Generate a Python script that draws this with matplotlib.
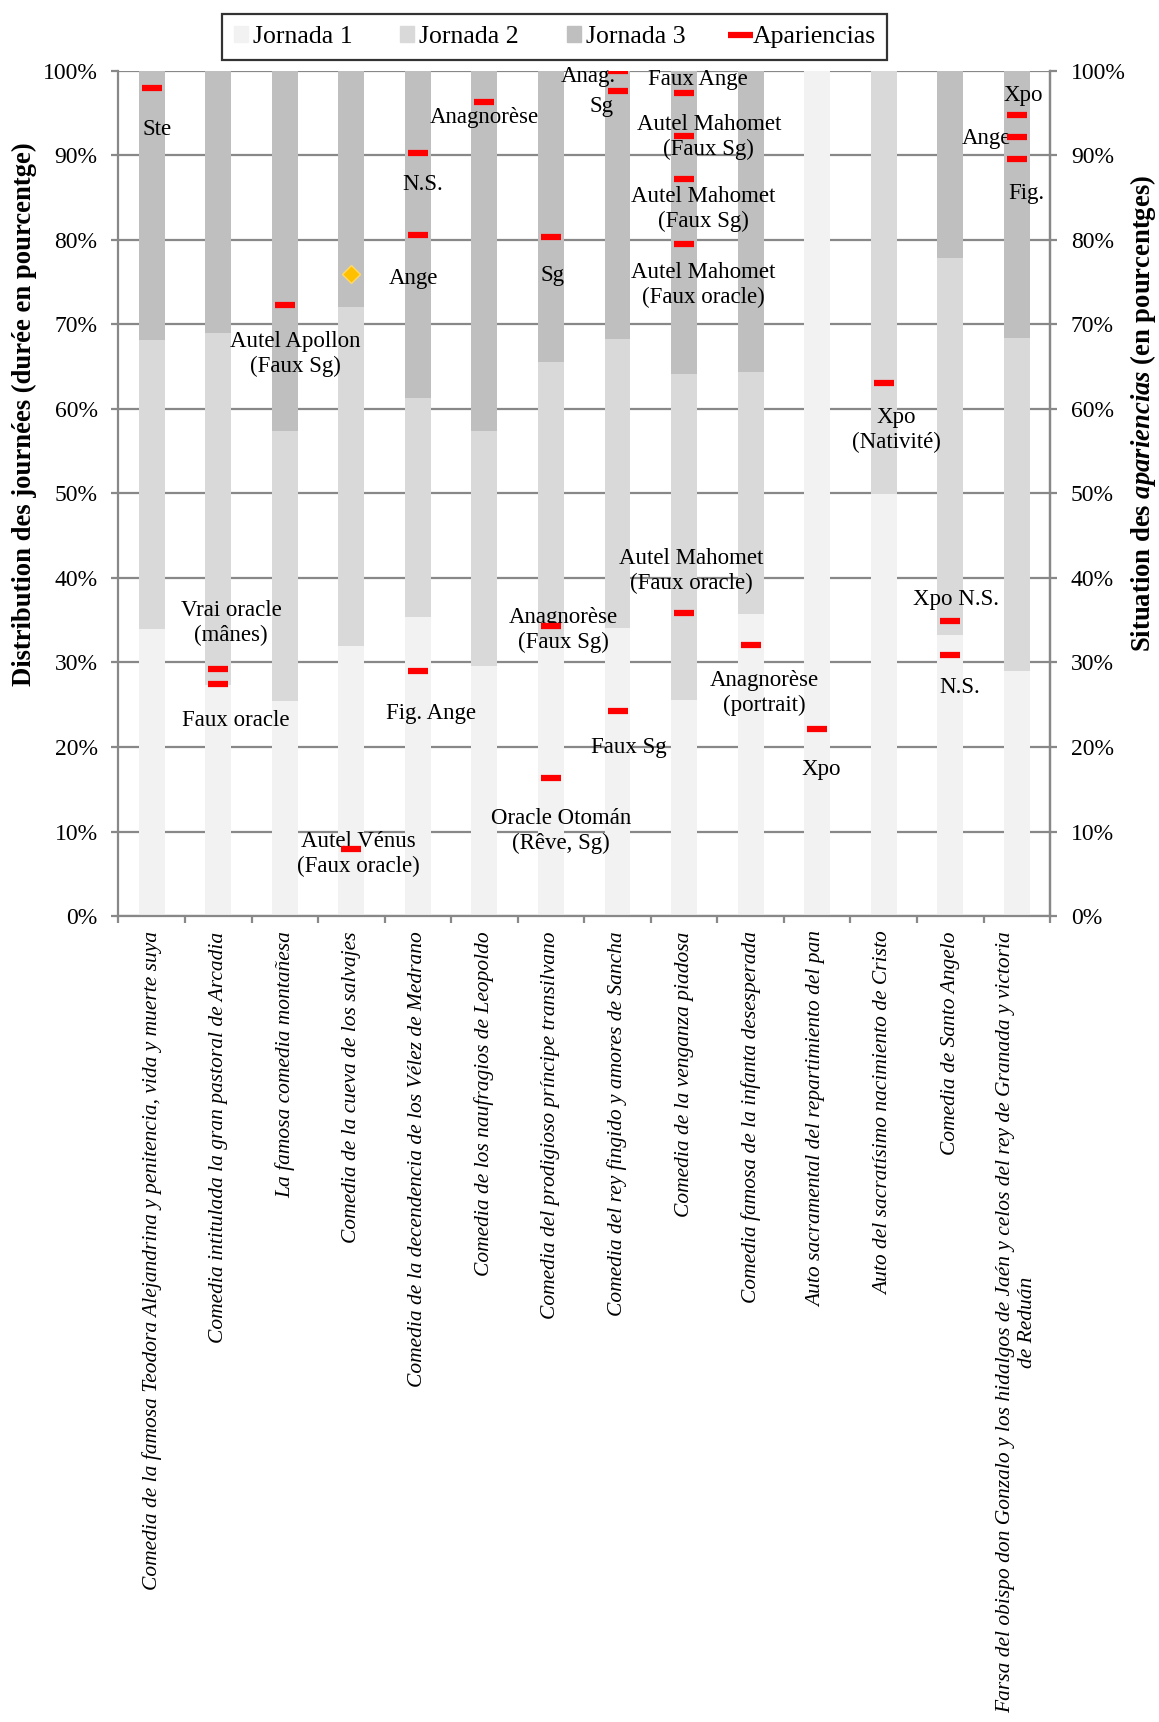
import matplotlib
matplotlib.use("Agg")
import matplotlib.pyplot as plt
from matplotlib.lines import Line2D
from matplotlib.patches import Patch
from matplotlib.ticker import PercentFormatter, FixedLocator

plt.rcParams['font.family'] = ['Liberation Serif', 'DejaVu Serif']
plt.rcParams['mathtext.fontset'] = 'custom'
plt.rcParams['mathtext.rm'] = 'Liberation Serif'
plt.rcParams['mathtext.it'] = 'Liberation Serif:italic'
plt.rcParams['mathtext.bf'] = 'Liberation Serif:bold'
plt.rcParams['mathtext.bfit'] = 'Liberation Serif:italic:bold'

# DATA
obras = [
    "Comedia de la famosa Teodora Alejandrina y penitencia, vida y muerte suya",
    "Comedia intitulada la gran pastoral de Arcadia",
    "La famosa comedia montañesa",
    "Comedia de la cueva de los salvajes",
    "Comedia de la decendencia de los Vélez de Medrano",
    "Comedia de los naufragios de Leopoldo",
    "Comedia del prodigioso príncipe transilvano",
    "Comedia del rey fingido y amores de Sancha",
    "Comedia de la venganza piadosa",
    "Comedia famosa de la infanta desesperada",
    "Auto sacramental del repartimiento del pan",
    "Auto del sacratísimo nacimiento de Cristo",
    "Comedia de Santo Angelo",
    "Farsa del obispo don Gonzalo y los hidalgos de Jaén y celos del rey de Granada y victoria\nde Reduán",
]
jornada1 = [34.0, 27.3, 25.5, 31.9, 35.4, 29.6, 32.7, 34.1, 25.6, 35.7, 100.0, 49.9, 33.3, 29.0]
jornada2 = [34.1, 41.7, 31.9, 40.1, 25.9, 27.8, 32.8, 34.2, 38.5, 28.6, 0.0, 50.1, 44.5, 39.4]
jornada3 = [31.9, 31.0, 42.6, 28.0, 38.7, 42.6, 34.5, 31.7, 35.9, 35.7, 0.0, 0.0, 22.2, 31.6]

# apariencias: index of the play, position in %
app_obra = [0, 1, 1, 2, 3, 4, 4, 4, 5, 6, 6, 6, 7, 7, 7,
            8, 8, 8, 8, 8, 9, 10, 11, 12, 12, 13, 13, 13]
app_pos = [97.9, 29.2, 27.5, 72.3, 7.9, 90.3, 80.6, 29.0, 96.3, 80.3, 34.3, 16.3, 100.0, 97.6, 24.3,
           97.4, 92.3, 87.2, 79.5, 35.8, 32.1, 22.1, 63.1, 34.9, 30.9, 94.7, 92.1, 89.5]

# orange point (cueva de los salvajes)
otro_obra = [3]
otro_pos = [76.0]

etiquetas = ["Ste", "Vrai oracle\n(mânes)", "Faux oracle", "Autel Apollon\n(Faux Sg)",
             "Autel Vénus\n(Faux oracle)", "N.S.", "Ange", "Fig. Ange", "Anagnorèse", "Sg",
             "Anagnorèse\n(Faux Sg)", "Oracle Otomán\n(Rêve, Sg)", "Anag.", "Sg", "Faux Sg",
             "Faux Ange", "Autel Mahomet\n(Faux Sg)", "Autel Mahomet\n(Faux Sg)",
             "Autel Mahomet\n(Faux oracle)", "Autel Mahomet\n(Faux oracle)",
             "Anagnorèse\n(portrait)", "Xpo", "Xpo\n(Nativité)", "Xpo N.S.", "N.S.",
             "Xpo", "Ange", "Fig."]
etiq_x = [0.08, 1.19, 1.26, 2.16, 3.1, 4.07, 3.94, 4.19, 5.0, 6.02, 6.18, 6.15, 6.56, 6.76, 7.17,
          8.2, 8.37, 8.29, 8.29, 8.11, 9.2, 10.06, 11.19, 12.08, 12.14, 13.1, 12.54, 13.14]
etiq_y = [93.0, 34.7, 23.1, 66.5, 7.35, 86.5, 75.4, 24.0, 94.4, 75.8, 33.8, 10.1, 99.3, 95.7, 19.9,
          99.0, 92.15, 83.65, 74.65, 40.8, 26.4, 17.3, 57.45, 37.4, 27.0, 97.0, 92.0, 85.5]

c_j1 = '#F2F2F2'
c_j2 = '#D9D9D9'
c_j3 = '#BFBFBF'
c_grid = '#888888'

fig = plt.figure(figsize=(11.59, 17.22), dpi=100)
ax = fig.add_axes([0.1022, 0.468, 0.8038, 0.491])

x = list(range(len(obras)))
w = 0.39
b2 = [a for a in jornada1]
b3 = [a + b for a, b in zip(jornada1, jornada2)]
ax.bar(x, jornada1, width=w, color=c_j1, zorder=2)
ax.bar(x, jornada2, width=w, bottom=b2, color=c_j2, zorder=2)
ax.bar(x, jornada3, width=w, bottom=b3, color=c_j3, zorder=2)

ax.set_xlim(-0.5, len(obras) - 0.5)
ax.set_ylim(0, 100)
ax.yaxis.set_major_locator(FixedLocator(range(0, 101, 10)))
ax.yaxis.set_major_formatter(PercentFormatter(decimals=0))
ax.grid(axis='y', color=c_grid, linewidth=1.6, zorder=0)
ax.set_axisbelow(True)

ax.spines['top'].set_visible(False)
for s in ['left', 'right', 'bottom']:
    ax.spines[s].set_color(c_grid)
    ax.spines[s].set_linewidth(1.6)

ax.set_xticks(x)
ax.set_xticklabels(obras, rotation=90, fontsize=15.5, style='italic', va='top', ha='center',
                   multialignment='center')
ax.tick_params(axis='x', length=0, pad=11)
ax.set_xticks([i - 0.5 for i in range(len(obras) + 1)], minor=True)
ax.tick_params(axis='x', which='minor', length=5, width=1.6, color=c_grid, direction='out')
ax.tick_params(axis='y', labelsize=17, length=5, width=1.6, color=c_grid, pad=10)

ax2 = ax.twinx()
ax2.set_ylim(0, 100)
ax2.yaxis.set_major_locator(FixedLocator(range(0, 101, 10)))
ax2.yaxis.set_major_formatter(PercentFormatter(decimals=0))
ax2.tick_params(axis='y', labelsize=17, length=5, width=1.6, color=c_grid, pad=10)
for s in ['top', 'left', 'bottom']:
    ax2.spines[s].set_visible(False)
ax2.spines['right'].set_color(c_grid)
ax2.spines['right'].set_linewidth(1.6)

for t, tx, ty in zip(etiquetas, etiq_x, etiq_y):
    ax2.text(tx, ty, t, fontsize=16.5, ha='center', va='center', linespacing=1.25, zorder=3)

ax2.plot(app_obra, app_pos, linestyle='none', marker='_', markersize=15, markeredgewidth=4.5,
         color='#FF0000', zorder=4)
ax2.plot(otro_obra, otro_pos, linestyle='none', marker='D', markersize=9,
         color='#FFC000', markeredgecolor='#FFD966', markeredgewidth=1, zorder=4)

fig.text(0.021, 0.7596, "Distribution des journées (durée en pourcentge)", rotation=90,
         ha='center', va='center', fontsize=19.2, fontweight='bold')
fig.text(0.986, 0.7596, r"Situation des $\mathbfit{apariencias}$ (en pourcentges)", rotation=90,
         ha='center', va='center', fontsize=19.2, fontweight='bold')

handles = [Patch(color=c_j1, label='Jornada 1'),
           Patch(color=c_j2, label='Jornada 2'),
           Patch(color=c_j3, label='Jornada 3'),
           Line2D([], [], color='#FF0000', linestyle='none', marker='_', markersize=18,
                  markeredgewidth=4.5, label='Apariencias')]
leg = fig.legend(handles=handles, loc='center', bbox_to_anchor=(0.4785, 0.9785), ncol=4,
                 fontsize=18.5, frameon=True, fancybox=False, edgecolor='black',
                 handlelength=0.55, handleheight=0.55, handletextpad=0.2, columnspacing=1.85,
                 borderpad=0.45, borderaxespad=0)
leg.get_frame().set_linewidth(1.6)

fig.savefig('out.png', dpi=100)
